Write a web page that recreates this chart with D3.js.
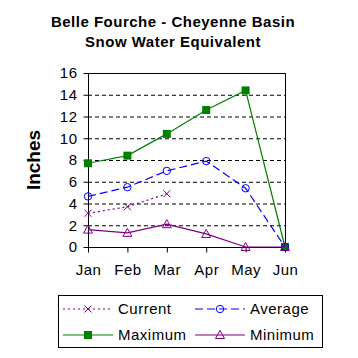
<!DOCTYPE html>
<html><head><meta charset="utf-8">
<script src="https://cdn.jsdelivr.net/npm/d3@7"></script>
<style>body{margin:0;background:#fff}svg text{font-family:Arial,"Liberation Sans",sans-serif}</style>
</head><body><svg id="c" width="358" height="358"></svg>
<script>
const months = ["Jan","Feb","Mar","Apr","May","Jun"];
const current = [3.1, 3.7, 4.9];
const average = [4.65, 5.5, 7.0, 7.9, 5.4, 0];
const maximum = [7.7, 8.4, 10.4, 12.6, 14.4, 0];
const minimum = [1.6, 1.3, 2.1, 1.2, 0, 0];
const yTicks = [0,2,4,6,8,10,12,14,16];
const titleLines = ["Belle Fourche - Cheyenne Basin","Snow Water Equivalent"];

const svg = d3.select("#c");
const L=88,R=285,T=73,B=247;
const x = d3.scalePoint().domain(months).range([L,R]);
const y = d3.scaleLinear().domain([0,16]).range([B,T]);

svg.selectAll(".title").data(titleLines).enter().append("text")
  .attr("x",173).attr("y",(d,i)=>27+i*20).attr("text-anchor","middle")
  .attr("font-size",15).attr("letter-spacing",0.5).attr("font-weight","bold").text(d=>d);

// gridlines
svg.append("g").selectAll("line").data(yTicks.filter(v=>v>0&&v<16)).enter().append("line")
  .attr("x1",L).attr("x2",R).attr("y1",d=>y(d)+0.5).attr("y2",d=>y(d)+0.5)
  .attr("stroke","#000").attr("stroke-dasharray","4,3");
// frame top/right
svg.append("path").attr("d",`M${L},${T+0.5}H${R+0.5}V${B}`).attr("fill","none").attr("stroke","#000");

const ya = svg.append("g").attr("transform",`translate(${L+0.5},0)`)
  .call(d3.axisLeft(y).tickValues(yTicks).tickSize(5).tickPadding(6));
const xa = svg.append("g").attr("transform",`translate(0,${B+0.5})`)
  .call(d3.axisBottom(x).tickSize(5).tickPadding(12));
[ya,xa].forEach(a=>{a.select(".domain").attr("stroke","#000");a.selectAll("text").attr("font-size",15).attr("letter-spacing",0.5).attr("fill","#000");a.selectAll("line").attr("stroke","#000");});
ya.select(".domain").attr("d",`M0,${T}V${B+0.5}`);
xa.select(".domain").attr("d",`M${L},0H${R+0.5}`);
xa.selectAll("text").attr("dy","0.71em");

svg.append("text").attr("transform","translate(40,160) rotate(-90)").attr("text-anchor","middle")
  .attr("font-size",19).attr("font-weight","bold").text("Inches");

const line = d3.line().x((d,i)=>x(months[i])).y(d=>y(d));
const series = [
  {name:"Current",data:current,color:"#800080",dash:"2,3",marker:"x"},
  {name:"Average",data:average,color:"#0000ff",dash:"8,4",marker:"circle"},
  {name:"Maximum",data:maximum,color:"#008000",dash:null,marker:"square"},
  {name:"Minimum",data:minimum,color:"#800080",dash:null,marker:"triangle"}
];
function marker(g,type,color,cx,cy){
  if(type==="x"){
    g.append("path").attr("d",`M${cx-3.5},${cy-3.5}L${cx+3.5},${cy+3.5}M${cx-3.5},${cy+3.5}L${cx+3.5},${cy-3.5}`).attr("stroke",color).attr("fill","none");
  } else if(type==="circle"){
    g.append("circle").attr("cx",cx).attr("cy",cy).attr("r",3.7).attr("fill","none").attr("stroke",color);
  } else if(type==="square"){
    g.append("rect").attr("x",cx-4).attr("y",cy-4).attr("width",8).attr("height",8).attr("fill",color);
  } else {
    g.append("path").attr("d",`M${cx},${cy-4.5}L${cx+4.5},${cy+3.5}L${cx-4.5},${cy+3.5}Z`).attr("fill","none").attr("stroke",color);
  }
}
[series[2],series[1],series[0],series[3]].forEach(s=>{
  const g=svg.append("g");
  g.append("path").attr("d",line(s.data)).attr("fill","none").attr("stroke",s.color)
    .attr("stroke-width",1.2).attr("stroke-dasharray",s.dash);
  s.data.forEach((v,i)=>marker(g,s.marker,s.color,x(months[i]),y(v)));
});

// legend
const lg = svg.append("g");
lg.append("rect").attr("x",58.5).attr("y",295.5).attr("width",264).attr("height",52).attr("fill","#fff").attr("stroke","#000");
const pos=[[63,309],[195,309],[63,335],[195,335]];
series.forEach((s,i)=>{
  const [lx,ly]=pos[i];
  lg.append("line").attr("x1",lx).attr("x2",lx+50).attr("y1",ly).attr("y2",ly).attr("stroke",s.color).attr("stroke-width",1.2).attr("stroke-dasharray",s.dash);
  marker(lg,s.marker,s.color,lx+25,ly);
  lg.append("text").attr("x",lx+55).attr("y",ly+5).attr("font-size",15).attr("letter-spacing",0.5).text(s.name);
});
</script></body></html>
